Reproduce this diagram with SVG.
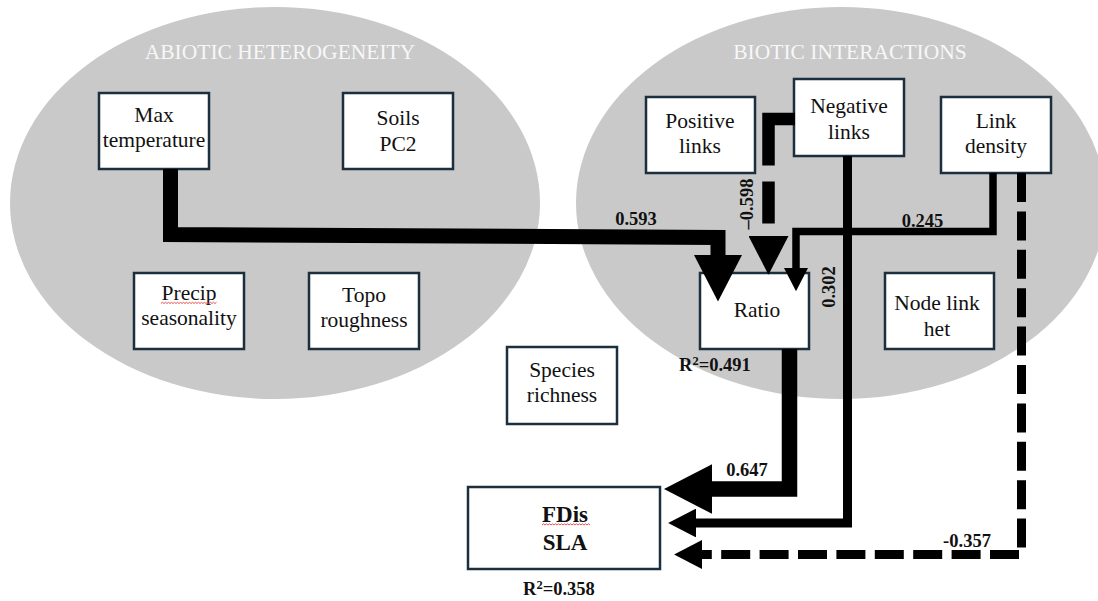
<svg xmlns="http://www.w3.org/2000/svg" width="1098" height="601" viewBox="0 0 1098 601">
  <style>
    .bg { fill: #ffffff; }
    .cluster { fill: #c9c9c9; }
    .title { font-family: "Liberation Serif", "Times New Roman", serif; font-size: 21.5px; fill: #f7f7f7; text-anchor: middle; }
    .box { fill: #ffffff; stroke: #1c2f3c; stroke-width: 2.5; }
    .txt { font-family: "Liberation Serif", "Times New Roman", serif; font-size: 21.5px; fill: #111111; text-anchor: middle; }
    .bold { font-weight: bold; font-size: 23px; }
    .lbl { font-family: "Liberation Serif", "Times New Roman", serif; font-size: 18.5px; font-weight: bold; fill: #111111; }
    .sup { font-size: 12.5px; }
    .mid { text-anchor: middle; }
    .edge { fill: none; stroke: #000000; stroke-linejoin: miter; stroke-linecap: butt; marker-end: url(#arrow); }
    .squiggle { fill: none; stroke: #e04040; stroke-width: 0.9; }
  </style>
  <defs>
    <marker id="arrow" viewBox="0 0 10 10" refX="0" refY="5" markerUnits="strokeWidth" markerWidth="3.1" markerHeight="3.2" orient="auto" preserveAspectRatio="none">
      <path d="M0,0 L10,5 L0,10 z" fill="#000000"/>
    </marker>
  </defs>

  <rect class="bg" x="0" y="0" width="1098" height="601"/>

  <!-- grouping ellipses -->
  <g id="abiotic-group">
    <ellipse class="cluster" cx="275" cy="203" rx="265" ry="196"/>
    <text class="title" x="280" y="59">ABIOTIC HETEROGENEITY</text>
  </g>
  <g id="biotic-group">
    <ellipse class="cluster" cx="841" cy="203" rx="265" ry="196"/>
    <text class="title" x="850" y="59">BIOTIC INTERACTIONS</text>
  </g>

  <!-- nodes -->
  <g id="max-temperature">
    <rect class="box" x="99" y="93" width="110" height="76"/>
    <text class="txt" x="154" y="122">Max</text>
    <text class="txt" x="154" y="147">temperature</text>
  </g>
  <g id="soils-pc2">
    <rect class="box" x="343" y="93" width="110" height="76"/>
    <text class="txt" x="398" y="125">Soils</text>
    <text class="txt" x="398" y="151">PC2</text>
  </g>
  <g id="precip-seasonality">
    <rect class="box" x="134" y="273" width="110" height="76"/>
    <text class="txt" x="189" y="300">Precip</text>
    <path class="squiggle" d="M161,303.5 l1.5,-1.2 l1.5,1.2 l1.5,-1.2 l1.5,1.2 l1.5,-1.2 l1.5,1.2 l1.5,-1.2 l1.5,1.2 l1.5,-1.2 l1.5,1.2 l1.5,-1.2 l1.5,1.2 l1.5,-1.2 l1.5,1.2 l1.5,-1.2 l1.5,1.2 l1.5,-1.2 l1.5,1.2 l1.5,-1.2 l1.5,1.2 l1.5,-1.2 l1.5,1.2 l1.5,-1.2 l1.5,1.2 l1.5,-1.2 l1.5,1.2 l1.5,-1.2 l1.5,1.2 l1.5,-1.2 l1.5,1.2 l1.5,-1.2 l1.5,1.2 l1.5,-1.2 l1.5,1.2 l1.5,-1.2 l1.5,1.2 l1.5,-1.2"/>
    <text class="txt" x="189" y="325">seasonality</text>
  </g>
  <g id="topo-roughness">
    <rect class="box" x="309" y="273" width="110" height="76"/>
    <text class="txt" x="364" y="302">Topo</text>
    <text class="txt" x="364" y="327">roughness</text>
  </g>
  <g id="positive-links">
    <rect class="box" x="646" y="97" width="109" height="76"/>
    <text class="txt" x="700" y="128">Positive</text>
    <text class="txt" x="700" y="153">links</text>
  </g>
  <g id="negative-links">
    <rect class="box" x="794" y="79" width="110" height="77"/>
    <text class="txt" x="849" y="113">Negative</text>
    <text class="txt" x="849" y="139">links</text>
  </g>
  <g id="link-density">
    <rect class="box" x="941" y="97" width="110" height="76"/>
    <text class="txt" x="996" y="128">Link</text>
    <text class="txt" x="996" y="153">density</text>
  </g>
  <g id="ratio">
    <rect class="box" x="700" y="273" width="109" height="76"/>
    <text class="txt" x="757" y="317">Ratio</text>
  </g>
  <g id="node-link-het">
    <rect class="box" x="885" y="273" width="109" height="76"/>
    <text class="txt" x="937" y="310">Node link</text>
    <text class="txt" x="937" y="336">het</text>
  </g>
  <g id="species-richness">
    <rect class="box" x="507" y="347" width="110" height="77"/>
    <text class="txt" x="562" y="377">Species</text>
    <text class="txt" x="562" y="402">richness</text>
  </g>
  <g id="fdis-sla">
    <rect class="box" x="468" y="487" width="192" height="82"/>
    <text class="txt bold" x="565" y="522">FDis</text>
    <path class="squiggle" d="M542,525 l1.5,-1.2 l1.5,1.2 l1.5,-1.2 l1.5,1.2 l1.5,-1.2 l1.5,1.2 l1.5,-1.2 l1.5,1.2 l1.5,-1.2 l1.5,1.2 l1.5,-1.2 l1.5,1.2 l1.5,-1.2 l1.5,1.2 l1.5,-1.2 l1.5,1.2 l1.5,-1.2 l1.5,1.2 l1.5,-1.2 l1.5,1.2 l1.5,-1.2 l1.5,1.2 l1.5,-1.2 l1.5,1.2 l1.5,-1.2 l1.5,1.2 l1.5,-1.2 l1.5,1.2 l1.5,-1.2 l1.5,1.2 l1.5,-1.2 l1.5,1.2"/>
    <text class="txt bold" x="565" y="550">SLA</text>
  </g>

  <!-- connectors -->
  <g id="connectors">
    <!-- Max temperature -> Ratio -->
    <path class="edge" stroke-width="15" d="M170.5,169 V234.5 L718,237.5 V255"/>
    <!-- Negative links -> Ratio (negative, dashed) -->
    <path class="edge" stroke-width="12.5" stroke-dasharray="73 16 42 100" d="M795,119 H768.5 V236"/>
    <!-- Link density -> Ratio -->
    <path class="edge" stroke-width="7.5" d="M993,173 V231.5 H796 V268"/>
    <!-- Negative links -> FDis SLA -->
    <path class="edge" stroke-width="9" d="M847.5,156 V523 H696"/>
    <!-- Ratio -> FDis SLA -->
    <path class="edge" stroke-width="15.5" d="M789.5,349 V489 H712"/>
    <!-- Link density -> FDis SLA (negative, dashed) -->
    <path class="edge" stroke-width="9" stroke-dasharray="29 9.4" d="M1021.5,173 V554.5 H702"/>

    <!-- path coefficients -->
    <text class="lbl mid" x="636" y="225">0.593</text>
    <text class="lbl mid" transform="translate(753,204) rotate(-90)">–0.598</text>
    <text class="lbl mid" x="922.5" y="227">0.245</text>
    <text class="lbl mid" transform="translate(835,287) rotate(-90)">0.302</text>
    <text class="lbl mid" x="747" y="476">0.647</text>
    <text class="lbl mid" x="967" y="547">-0.357</text>
    <text class="lbl" x="679" y="371">R<tspan class="sup" dy="-6.5">2</tspan><tspan dy="6.5">=0.491</tspan></text>
    <text class="lbl" x="523" y="595">R<tspan class="sup" dy="-6.5">2</tspan><tspan dy="6.5">=0.358</tspan></text>
  </g>
</svg>
